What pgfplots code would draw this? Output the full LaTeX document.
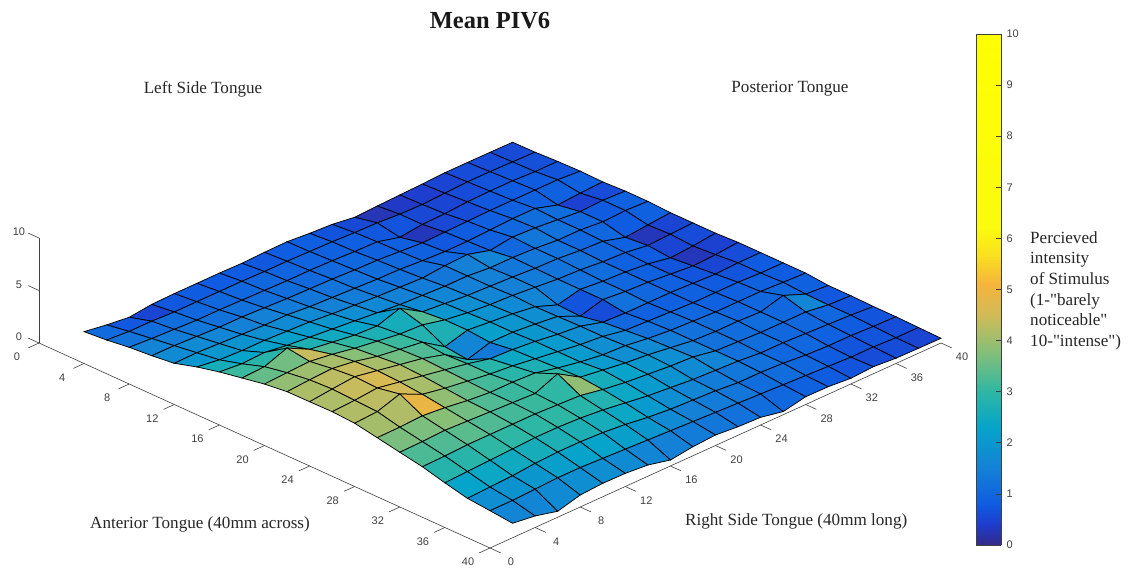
\documentclass[border=0pt]{standalone}
\usepackage{pgfplots}
\usepackage{fontspec}
\setmainfont{Liberation Serif}
\newfontfamily\tickfont{Liberation Sans}
\newfontfamily\labelfont{Liberation Serif}
\pgfplotsset{compat=1.18}
\pgfplotsset{colormap={tongue}{
rgb255(0cm)=(53,42,135); rgb255(4cm)=(30,60,205); rgb255(8cm)=(15,92,225); rgb255(15cm)=(20,129,214); rgb255(23cm)=(6,164,202); rgb255(30cm)=(46,183,164); rgb255(38cm)=(135,191,119); rgb255(45cm)=(209,187,89); rgb255(51cm)=(245,180,60); rgb255(57cm)=(250,225,30); rgb255(62cm)=(250,251,14); rgb255(100cm)=(255,255,0)}}
\definecolor{tickgray}{gray}{0.25}
\begin{document}
\begin{tikzpicture}[x=1pt,y=1pt]
\path[use as bounding box] (0,0) rectangle (1131,569);
\begin{axis}[
 at={(39pt,226pt)}, anchor=origin,
 x={(11.275pt,-5.125pt)}, y={(11.275pt,5.125pt)}, z={(0pt,10.5pt)},
 xmin=0,xmax=40,ymin=0,ymax=40,zmin=0,zmax=10,
 clip=false,
 axis x line*=bottom, axis y line*=left, axis z line*=left,
 axis line style={tickgray,line width=0.6pt,-},
 major tick length=0pt,
 xtick={0,4,...,40}, ytick={0,4,...,40}, ztick={0,5,10},
 ticklabel style={font=\tickfont\fontsize{11}{11}\selectfont,text=tickgray},
 xticklabel style={anchor=center,xshift=-22pt,yshift=-14pt},
 yticklabel style={anchor=center,xshift=21pt,yshift=-14pt},
 zticklabel style={anchor=center,xshift=-20pt,yshift=6pt},
 /pgf/number format/assume math mode=true,
 colormap name=tongue,
 point meta min=0, point meta max=10,
]
\addplot3[surf, shader=flat corner, draw=black, line width=0.75pt, mesh/rows=20, mesh/cols=20, mesh/ordering=y varies] coordinates {
(2,2,1.08)(2,4,.75)(2,6,.5)(2,8,.75)(2,10,.8)(2,12,.8)(2,14,.8)(2,16,.76)(2,18,.83)(2,20,.86)(2,22,.68)(2,24,.56)(2,26,.26)(2,28,.36)(2,30,.43)(2,32,.5)(2,34,.6)(2,36,.6)(2,38,.59)(2,40,.57)
(4,2,1.26)(4,4,1.1)(4,6,1.1)(4,8,1.0)(4,10,1.0)(4,12,1.0)(4,14,1.0)(4,16,.95)(4,18,.95)(4,20,.9)(4,22,.85)(4,24,.75)(4,26,.7)(4,28,.55)(4,30,.5)(4,32,.6)(4,34,.7)(4,36,.7)(4,38,.65)(4,40,.6)
(6,2,1.54)(6,4,1.4)(6,6,1.3)(6,8,1.2)(6,10,1.2)(6,12,1.15)(6,14,1.1)(6,16,1.05)(6,18,1.05)(6,20,1.0)(6,22,.9)(6,24,.85)(6,26,.3)(6,28,.55)(6,30,.6)(6,32,.75)(6,34,.8)(6,36,.8)(6,38,.7)(6,40,.7)
(8,2,1.72)(8,4,1.7)(8,6,1.6)(8,8,1.5)(8,10,1.5)(8,12,1.4)(8,14,1.3)(8,16,1.25)(8,18,1.2)(8,20,1.1)(8,22,1.05)(8,24,.9)(8,26,.75)(8,28,.8)(8,30,.85)(8,32,.9)(8,34,.9)(8,36,.9)(8,38,.9)(8,40,.75)
(10,2,1.97)(10,4,2.0)(10,6,1.9)(10,8,1.8)(10,10,1.7)(10,12,1.7)(10,14,1.5)(10,16,1.4)(10,18,1.3)(10,20,1.2)(10,22,1.15)(10,24,1.0)(10,26,.9)(10,28,.9)(10,30,1.0)(10,32,1.1)(10,34,1.1)(10,36,.45)(10,38,.6)(10,40,.7)
(12,2,2.6)(12,4,2.3)(12,6,2.2)(12,8,2.2)(12,10,2.1)(12,12,2.0)(12,14,1.8)(12,16,1.65)(12,18,1.5)(12,20,1.4)(12,22,1.3)(12,24,1.5)(12,26,1.6)(12,28,1.0)(12,30,1.3)(12,32,1.2)(12,34,1.0)(12,36,.8)(12,38,.9)(12,40,.8)
(14,2,3.1)(14,4,2.9)(14,6,3.0)(14,8,2.7)(14,10,2.5)(14,12,2.3)(14,14,2.1)(14,16,1.9)(14,18,1.7)(14,20,1.6)(14,22,1.5)(14,24,1.5)(14,26,1.3)(14,28,1.3)(14,30,1.2)(14,32,1.0)(14,34,1.0)(14,36,.8)(14,38,.9)(14,40,.8)
(16,2,3.5)(16,4,3.6)(16,6,4.4)(16,8,3.3)(16,10,3.0)(16,12,2.7)(16,14,2.6)(16,16,3.3)(16,18,2.0)(16,20,1.8)(16,22,1.6)(16,24,1.5)(16,26,1.4)(16,28,1.25)(16,30,1.2)(16,32,1.0)(16,34,.9)(16,36,.3)(16,38,.5)(16,40,.7)
(18,2,3.9)(18,4,4.0)(18,6,4.1)(18,8,3.8)(18,10,3.4)(18,12,3.1)(18,14,2.8)(18,16,2.7)(18,18,2.2)(18,20,1.9)(18,22,1.7)(18,24,1.6)(18,26,1.4)(18,28,1.2)(18,30,1.1)(18,32,.9)(18,34,.8)(18,36,.5)(18,38,.6)(18,40,.7)
(20,2,4.15)(20,4,4.3)(20,6,4.4)(20,8,4.1)(20,10,3.6)(20,12,3.3)(20,14,3.0)(20,16,1.6)(20,18,2.2)(20,20,2.0)(20,22,1.8)(20,24,1.5)(20,26,.7)(20,28,1.2)(20,30,1.0)(20,32,.9)(20,34,.7)(20,36,.3)(20,38,.45)(20,40,.7)
(22,2,4.17)(22,4,4.4)(22,6,4.6)(22,8,4.2)(22,10,3.8)(22,12,3.4)(22,14,2.8)(22,16,1.35)(22,18,2.0)(22,20,2.0)(22,22,1.8)(22,24,1.55)(22,26,.6)(22,28,1.2)(22,30,1.0)(22,32,.9)(22,34,.7)(22,36,.5)(22,38,.6)(22,40,.8)
(24,2,4.2)(24,4,4.3)(24,6,4.5)(24,8,4.1)(24,10,3.7)(24,12,3.3)(24,14,2.9)(24,16,2.4)(24,18,2.3)(24,20,2.1)(24,22,1.8)(24,24,1.6)(24,26,1.0)(24,28,.9)(24,30,.9)(24,32,.9)(24,34,.8)(24,36,.7)(24,38,.8)(24,40,.8)
(26,2,4.07)(26,4,4.2)(26,6,4.9)(26,8,3.9)(26,10,3.5)(26,12,3.2)(26,14,2.9)(26,16,2.7)(26,18,2.4)(26,20,2.1)(26,22,1.8)(26,24,1.6)(26,26,1.2)(26,28,1.1)(26,30,1.0)(26,32,.9)(26,34,.9)(26,36,.9)(26,38,.8)(26,40,.8)
(28,2,3.67)(28,4,3.7)(28,6,3.8)(28,8,3.6)(28,10,3.3)(28,12,3.1)(28,14,3.1)(28,16,3.0)(28,18,2.5)(28,20,2.1)(28,22,1.8)(28,24,1.7)(28,26,1.4)(28,28,1.2)(28,30,1.1)(28,32,1.0)(28,34,1.0)(28,36,1.0)(28,38,.9)(28,40,.8)
(30,2,3.26)(30,4,3.3)(30,6,3.4)(30,8,3.3)(30,10,3.2)(30,12,3.1)(30,14,3.0)(30,16,3.9)(30,18,2.6)(30,20,2.3)(30,22,2.0)(30,24,1.8)(30,26,1.5)(30,28,1.2)(30,30,1.1)(30,32,1.1)(30,34,1.0)(30,36,1.6)(30,38,.75)(30,40,.6)
(32,2,2.86)(32,4,2.9)(32,6,3.0)(32,8,3.0)(32,10,3.0)(32,12,3.0)(32,14,2.9)(32,16,2.8)(32,18,2.4)(32,20,2.1)(32,22,1.9)(32,24,1.7)(32,26,1.6)(32,28,1.2)(32,30,1.1)(32,32,1.0)(32,34,1.0)(32,36,1.0)(32,38,.7)(32,40,.6)
(34,2,2.3)(34,4,2.4)(34,6,2.5)(34,8,2.6)(34,10,2.7)(34,12,2.7)(34,14,2.6)(34,16,2.4)(34,18,2.1)(34,20,1.8)(34,22,1.6)(34,24,1.4)(34,26,1.3)(34,28,1.2)(34,30,1.0)(34,32,1.0)(34,34,.9)(34,36,.8)(34,38,.7)(34,40,.55)
(36,2,1.8)(36,4,1.9)(36,6,2.0)(36,8,2.2)(36,10,2.3)(36,12,2.3)(36,14,2.2)(36,16,2.0)(36,18,1.7)(36,20,1.5)(36,22,1.4)(36,24,1.3)(36,26,1.1)(36,28,1.1)(36,30,1.0)(36,32,.8)(36,34,.7)(36,36,.7)(36,38,.6)(36,40,.55)
(38,2,1.6)(38,4,1.6)(38,6,1.7)(38,8,1.8)(38,10,1.8)(38,12,1.7)(38,14,1.6)(38,16,1.5)(38,18,1.4)(38,20,1.3)(38,22,1.2)(38,24,1.1)(38,26,1.0)(38,28,.9)(38,30,.8)(38,32,.7)(38,34,.6)(38,36,.6)(38,38,.5)(38,40,.5)
(40,2,1.38)(40,4,1.1)(40,6,.57)(40,8,1.14)(40,10,1.28)(40,12,1.25)(40,14,1.07)(40,16,.57)(40,18,.86)(40,20,1.0)(40,22,.81)(40,24,.73)(40,26,.3)(40,28,.74)(40,30,.72)(40,32,.54)(40,34,.67)(40,36,.5)(40,38,.47)(40,40,.45)
};
\pgfplotsinvokeforeach{0,4,...,40}{
 \draw[tickgray,line width=0.6pt] (axis cs:#1,0,0)--(axis cs:#1,-0.95,0);
 \draw[tickgray,line width=0.6pt] (axis cs:40,#1,0)--(axis cs:40.95,#1,0);
}
\pgfplotsinvokeforeach{0,5,10}{
 \draw[tickgray,line width=0.6pt] (axis cs:0,0,#1)--(axis cs:-0.95,0,#1);
}
\end{axis}
\begin{axis}[
 at={(976pt,24pt)}, anchor=south west, width=25pt, height=511pt, scale only axis,
 xmin=0,xmax=1,ymin=0,ymax=10, xtick=\empty, ytick={0,...,10},
 ytick pos=right, yticklabel pos=right, tick align=inside, major tick length=5pt,
 axis line style={tickgray,line width=0.6pt}, tick style={tickgray,line width=0.6pt},
 ticklabel style={font=\tickfont\fontsize{11}{11}\selectfont,text=tickgray},
 yticklabel style={xshift=2pt},
 /pgf/number format/assume math mode=true,
 colormap name=tongue, point meta min=0, point meta max=10, view={0}{90}, axis on top,
]
\addplot3[surf, shader=interp, point meta=y, mesh/rows=2, mesh/cols=2] coordinates {(0,0,0)(1,0,0)(0,10,0)(1,10,0)};
\end{axis}
\def\tsz{\fontsize{17.1}{17.1}\selectfont}
\node[font=\bfseries\fontsize{24.5}{24.5}\selectfont,text=black!90] at (490,548) {Mean PIV6};
\node[font=\tsz,text=black!85,inner sep=0pt] at (203,479.5) {Left Side Tongue};
\node[font=\tsz,text=black!85,inner sep=0pt] at (790,480.5) {Posterior Tongue};
\node[font=\tsz,text=black!85,anchor=west,inner sep=0pt] at (90,45) {Anterior Tongue (40mm across)};
\node[font=\tsz,text=black!85,anchor=west,inner sep=0pt] at (685,48) {Right Side Tongue (40mm long)};
\node[font=\labelfont\fontsize{17.1}{20.7}\selectfont,text=black!85,anchor=north west,align=left,inner sep=0pt] at (1030,338) {Percieved\\ intensity\\ of Stimulus\\ (1-"barely\\ noticeable"\\ 10-"intense")};
\end{tikzpicture}
\end{document}
